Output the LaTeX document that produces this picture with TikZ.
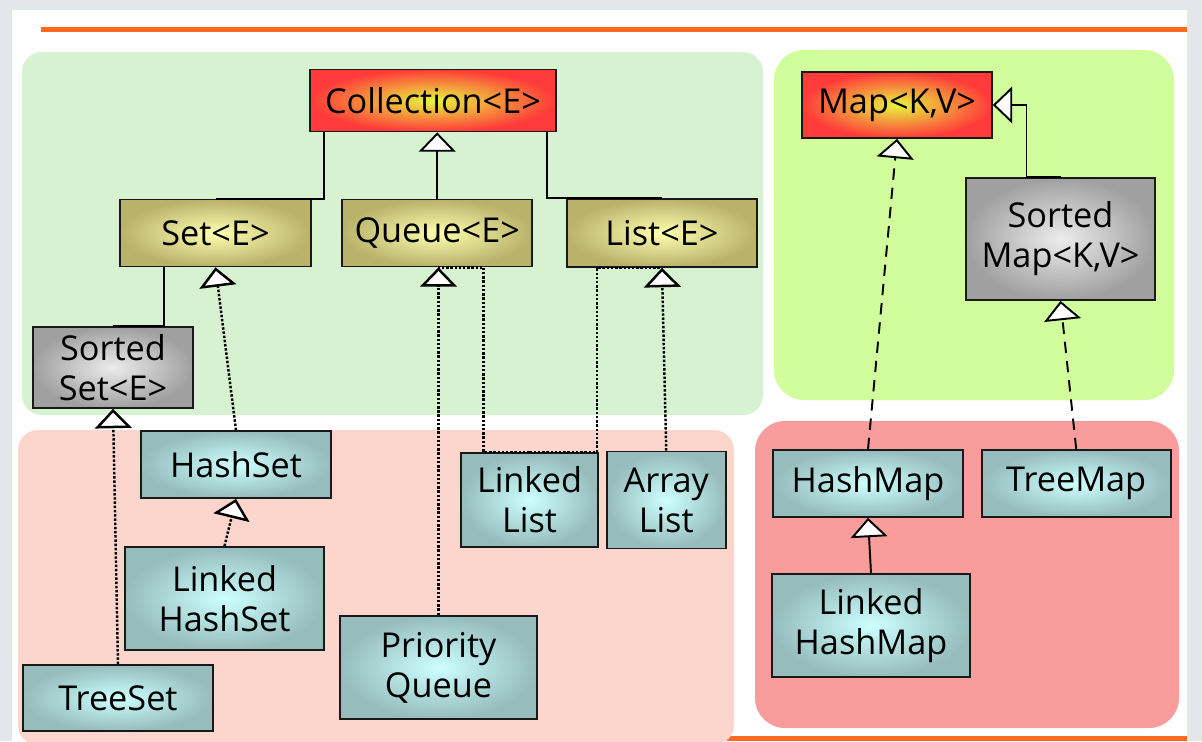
\documentclass[tikz,border=0pt]{standalone}
\usepackage{fontspec}
\setmainfont{Open Sans}
\usepackage{tikz}
\usetikzlibrary{arrows.meta,positioning}

\definecolor{slidegray}{RGB}{227,230,234}
\definecolor{rule}{RGB}{255,106,32}
\definecolor{setpanel}{RGB}{214,242,208}
\definecolor{mappanel}{RGB}{209,253,157}
\definecolor{implpanel}{RGB}{252,214,204}
\definecolor{mapimplpanel}{RGB}{249,156,156}
\definecolor{rootout}{RGB}{255,58,58}
\definecolor{rootin}{RGB}{232,245,60}
\definecolor{oliveout}{RGB}{184,178,106}
\definecolor{olivein}{RGB}{255,255,175}
\definecolor{grayout}{RGB}{160,160,160}
\definecolor{grayin}{RGB}{236,236,236}
\definecolor{tealout}{RGB}{150,188,188}
\definecolor{tealin}{RGB}{205,255,255}

\begin{document}
\begin{tikzpicture}[x=0.02cm, y=-0.02cm, >={Triangle[fill=white,width=21pt,length=11pt]},
	every node/.style={draw=black!90, line width=1pt, align=center, inner sep=0pt,
		font=\fontsize{19.5}{22.7}\selectfont},
	root/.style={shading=radial, outer color=rootout, inner color=rootin},
	iface/.style={shading=radial, outer color=oliveout, inner color=olivein},
	sorted/.style={shading=radial, outer color=grayout, inner color=grayin},
	impl/.style={shading=radial, outer color=tealout, inner color=tealin},
	conn/.style={line width=1.1pt},
	realize/.style={line width=1.4pt, dash pattern=on 1.4pt off 1pt},
	mapreal/.style={conn, dash pattern=on 6.5pt off 4.5pt}
	]
\useasboundingbox (0,0) rectangle (1202,741);
% slide and panels
\fill[slidegray] (0,0) rectangle (1202,741);
\fill[white] (12,10) rectangle (1187,741);
\fill[rule] (41,27) rectangle (1187,32);
\fill[rule] (727,736) rectangle (1187,741);
\fill[setpanel, rounded corners=0.4cm] (22,52) rectangle (763,415);
\fill[mappanel, rounded corners=0.6cm] (774,50) rectangle (1174,400);
\fill[implpanel, rounded corners=0.4cm] (18,430) rectangle (734,745);
\fill[mapimplpanel, rounded corners=0.6cm] (755,421) rectangle (1179,728);

% Collection
\node[root, minimum width=4.92cm, minimum height=1.24cm] (coll) at (433,100.5) {Collection<E>};
\node[iface, minimum width=3.82cm, minimum height=1.34cm] (set) at (215.5,233) {Set<E>};
\node[iface, minimum width=3.8cm, minimum height=1.34cm] (queue) [right=0.59cm of set] {Queue<E>};
\node[iface, minimum width=3.8cm, minimum height=1.36cm] (list) [right=0.66cm of queue] {List<E>};
\node[sorted, minimum width=3.2cm, minimum height=1.62cm] (sset) at (113,367.5) {Sorted\\Set<E>};
\node[impl, minimum width=3.8cm, minimum height=1.34cm] (hset) at (236,464.5) {HashSet};
\node[impl, minimum width=3.98cm, minimum height=2.06cm] (lhset) at (224.5,598.5) {Linked\\HashSet};
\node[impl, minimum width=3.8cm, minimum height=1.32cm] (tset) at (118,698) {TreeSet};
\node[impl, minimum width=3.94cm, minimum height=2.06cm] (pq) at (438.5,667.5) {Priority\\Queue};
\node[impl, minimum width=2.74cm, minimum height=1.88cm] (llist) at (529.5,500) {Linked\\List};
\node[impl, minimum width=2.38cm, minimum height=1.94cm] (alist) [right=0.14cm of llist] {Array\\List};
% Map
\node[root, minimum width=3.8cm, minimum height=1.32cm] (map) at (897,105) {Map<K,V>};
\node[sorted, minimum width=3.78cm, minimum height=2.44cm] (smap) at (1060.5,239) {Sorted\\Map<K,V>};
\node[impl, minimum width=3.8cm, minimum height=1.34cm] (hmap) at (868,483.5) {HashMap};
\node[impl, minimum width=3.78cm, minimum height=1.34cm] (tmap) [right=0.34cm of hmap] {TreeMap};
\node[impl, minimum width=3.96cm, minimum height=2.06cm] (lhmap) at (871,625.5) {Linked\\HashMap};

\draw[conn] (set.north) -| ([xshift=0.29cm]coll.south west);
\draw[conn] (list.north) -| ([xshift=-0.2cm]coll.south east);
\draw[conn,->] (queue.north) -- (queue.north |- coll.south);
\draw[conn] (sset.north) -| ([xshift=0.89cm]set.south west);
\draw[realize,->] (hset.north) -- (set.south);
\draw[realize,->] (lhset.north) -- (hset.south);
\draw[realize,->] (tset.north) -- (sset.south);
\draw[realize,->] (pq.north) -- (pq.north |- queue.south);
\draw[realize] (llist.north) -| ([xshift=0.93cm]queue.south) -- (queue.south);
\draw[realize] (llist.north) -| ([xshift=-1.3cm]list.south) -- (list.south);
\draw[realize,->] (alist.north) -- (list.south);

\draw[conn,->] (smap.north) -- ++(-34,0) |- (map.east);
\draw[mapreal,->] (hmap.north) -- (map.south);
\draw[mapreal,->] (tmap.north) -- (smap.south);
\draw[conn,->] (lhmap.north) -- (hmap.south);
\end{tikzpicture}
\end{document}
